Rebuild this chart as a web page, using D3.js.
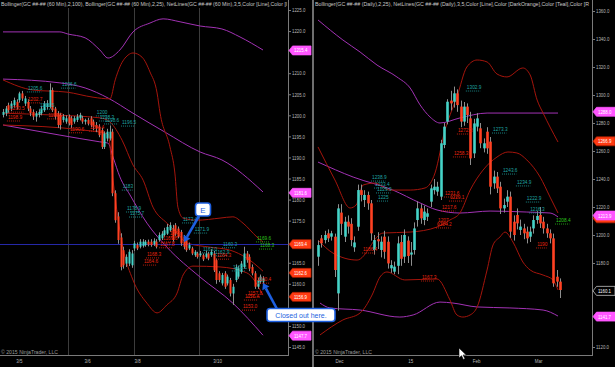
<!DOCTYPE html>
<html><head><meta charset="utf-8">
<script src="https://cdn.jsdelivr.net/npm/d3@7"></script>
<style>html,body{margin:0;padding:0;background:#000;overflow:hidden}</style>
</head><body>
<svg id="c" width="615" height="367"></svg>
<script>
// ---------------- DATA ----------------
// Left panel: 60 Min candles (GC)
const leftOpen  = [1200.1,1200.5,1202.4,1201.6,1202.4,1203.2,1203.6,1205.2,1202.8,1203.2,1201.6,1200.8,1199.7,1200.1,1200.5,1201.2,1202.0,1202.0,1206.0,1201.6,1200.5,1200.1,1198.9,1198.5,1199.7,1199.3,1198.5,1198.9,1199.3,1199.3,1198.5,1198.9,
  1199.3,1198.5,1197.7,1197.3,1196.5,1192.5,1194.5,1194.5,1196.1,1181.5,1176.0,1171.0,1168.0,1164.8,1164.8,1164.4,1168.4,1169.2,1168.8,1169.0,1169.2,1170.0,
  1170.0,1169.4,1170.0,1170.4,1170.8,1171.6,1171.9,1172.7,1173.1,1173.9,1173.1,1172.3,1171.2,1170.4,1168.4,1168.4,1166.8,1167.2,1166.8,
  1166.8,1166.4,1167.2,1166.8,1167.2,1165.6,1162.5,1160.1,1162.5,1160.1,1160.9,1157.7,1160.9,1161.7,1162.8,1164.0,1167.2,1166.4,1164.0,1162.5,1159.3,1160.5,1160.5];
const leftHigh  = [1201.5,1202.2,1203.0,1203.4,1204.2,1203.8,1205.6,1205.8,1204.6,1203.8,1202.2,1201.4,1201.0,1201.4,1202.2,1203.4,1203.6,1207.6,1206.6,1202.0,1201.0,1200.6,1200.3,1200.0,1200.2,1199.8,1199.8,1200.3,1200.6,1199.9,1199.2,1199.4,
  1199.8,1199.0,1198.4,1197.9,1197.0,1196.2,1196.8,1197.6,1196.8,1182.2,1177.0,1172.0,1168.8,1167.0,1168.2,1168.0,1170.2,1169.8,1170.6,1170.6,1170.4,1170.5,
  1170.6,1170.8,1170.6,1172.2,1172.5,1173.3,1174.2,1174.6,1174.0,1174.4,1173.6,1172.8,1171.6,1170.8,1169.8,1168.8,1168.0,1167.6,1167.8,
  1167.2,1167.8,1167.6,1168.2,1167.8,1166.0,1163.0,1162.6,1163.0,1162.2,1161.4,1160.0,1164.6,1164.2,1165.4,1168.8,1167.8,1167.0,1164.6,1163.0,1161.4,1162.2,1161.8];
const leftLow   = [1199.5,1199.8,1200.6,1201.0,1201.8,1201.4,1203.0,1203.4,1202.2,1201.0,1199.8,1198.9,1198.5,1199.5,1200.0,1200.8,1201.4,1201.6,1200.8,1199.0,1197.0,1196.6,1198.3,1198.0,1197.6,1197.0,1198.0,1198.4,1198.8,1198.0,1197.8,1197.6,
  1197.2,1196.5,1196.0,1194.8,1192.0,1192.0,1193.8,1194.0,1180.8,1174.5,1169.5,1163.2,1163.6,1164.0,1164.2,1163.8,1167.8,1168.0,1168.4,1168.6,1168.8,1168.9,
  1168.8,1169.0,1168.4,1170.0,1170.4,1171.2,1171.6,1172.3,1170.0,1171.4,1170.8,1169.0,1168.2,1167.6,1168.0,1166.8,1166.4,1166.0,1166.4,
  1165.4,1166.0,1165.6,1166.4,1162.8,1160.0,1160.4,1159.6,1158.8,1159.6,1157.0,1155.0,1160.4,1161.2,1162.4,1163.6,1165.0,1163.0,1162.0,1158.8,1158.8,1160.0,1160.0];
const leftClose = [1200.8,1201.6,1201.2,1202.8,1203.6,1202.0,1205.2,1204.0,1204.0,1201.6,1200.5,1199.7,1200.5,1200.8,1201.6,1202.8,1202.8,1206.0,1201.2,1199.7,1197.7,1197.7,1199.7,1199.3,1198.1,1197.7,1199.3,1199.7,1200.1,1198.5,1198.9,1198.0,
  1197.7,1197.3,1196.9,1195.3,1192.5,1195.7,1196.1,1196.1,1181.5,1175.1,1170.4,1164.0,1164.4,1166.4,1167.6,1167.2,1169.6,1168.4,1170.0,1170.0,1170.0,1169.3,
  1169.2,1170.2,1168.8,1171.6,1171.9,1172.7,1173.5,1173.9,1170.4,1171.9,1171.2,1169.6,1168.8,1168.0,1169.2,1167.2,1167.6,1166.4,1167.2,
  1165.8,1167.2,1166.0,1167.6,1163.2,1160.9,1160.9,1162.1,1159.3,1161.7,1157.7,1159.3,1164.0,1163.6,1164.8,1167.2,1165.6,1163.6,1162.5,1159.3,1160.9,1161.7,1161.3];

// Left panel bands: [bar index, price]
const leftBB100Upper = [[0,1219.8],[20.8,1219.8],[23.7,1219.3],[30,1218.4],[35.4,1215.5],[38.4,1213.6],[42.7,1215.5],[47.5,1219.8],[53.7,1221.9],[58.5,1222.9],[64.7,1222.2],[72,1221.2],[80,1220.5],[86.6,1218.6],[95,1215.5]];
const leftBB100Mid   = [[0,1208.6],[20.8,1207.7],[30,1206.5],[38.4,1204.1],[47.5,1200.5],[59.2,1196.0],[72,1191.3],[80,1189.4],[95,1181.8]];
const leftBB100Lower = [[0,1197.7],[20.8,1195.3],[35.4,1193.7],[38.4,1193.4],[40.2,1190.1],[42.7,1185.4],[46.4,1181.1],[52.6,1174.4],[59.9,1168.7],[72,1161.6],[84,1155.4],[95,1147.8]];
const leftBB25Upper  = [[0,1208.4],[11,1206.0],[23.4,1205.5],[32.9,1204.3],[39.1,1203.9],[41,1208.4],[42.7,1211.5],[45.7,1214.3],[47.5,1214.8],[50.8,1213.8],[53.7,1210.3],[56.3,1205.3],[57.4,1200.5],[61,1192.5],[62.8,1186.3],[63.9,1178.2],[65.8,1175.6],[70.9,1175.1],[79.3,1175.6],[84,1175.9],[87.7,1174.4],[92.8,1171.1],[95,1169.9]];
const leftBB25Mid    = [[0,1200.5],[17.2,1200.1],[35.4,1199.4],[39.1,1198.4],[43.5,1194.1],[47.5,1188.2],[51.2,1184.6],[54.8,1178.2],[59.9,1174.4],[63.6,1172.1],[67.2,1169.7],[75.6,1168.7],[82.9,1168.0],[89.1,1166.1],[95,1163.0]];
const leftBB25Lower  = [[0,1197.7],[29.2,1196.5],[38.4,1195.6],[40.2,1184.6],[43.8,1168.7],[47.5,1160.9],[52.6,1155.4],[56.3,1153.1],[59.9,1155.0],[63.6,1157.8],[65.8,1162.1],[69.4,1164.2],[79.3,1164.0],[89.1,1162.6],[95,1157.3]];

// Left NetLines labels
const leftLabelText  = ["1206.6","1205.6","1202.7","1201.5","1200.5","1198.9","1199.0","1200","1198.3","1198.6","1196.5","1194.4","1190.6","1183","1178.9","1175.7","1173.4","1171.9","1173","1169.6","1167.8","1168.3","1164.6","1160.3","1163.0","1162.9","1164.3","1169.6","1168.3","1162.1","1160.4","1157.8","1156.4","1153.0"];
const leftLabelBar   = [21.6,9.1,9.1,13.5,2.6,1.8,16.5,34.3,35.4,37.3,43.5,31.8,24.5,43.8,45.3,46.4,65.8,70.1,61,58.5,57.4,52.6,51.5,80.4,73.1,77.5,78.2,92.8,93.9,84,92.8,89.5,88.4,87.7];
const leftLabelPrice = [1207.4,1206.5,1203.9,1202.4,1201.7,1199.6,1200.1,1200.8,1199.6,1198.9,1198.4,1197.2,1196.8,1183.2,1178.0,1176.8,1175.4,1173.0,1172.1,1170.9,1169.5,1167.1,1165.4,1169.5,1168.3,1167.6,1166.8,1170.9,1169.2,1164.0,1161.1,1157.8,1157.1,1154.7];
const leftLabelKind  = ["t","t","r","t","r","r","r","t","t","t","t","r","r","t","t","t","t","t","r","r","r","r","r","t","t","t","r","g","g","t","r","r","r","r"];

const leftYTicks = [1225,1220,1210,1205,1200,1195,1190,1185,1180,1175,1165,1160,1150,1145];
const leftDateLabels = ["3/5","3/6","3/8","3/10"];
const leftDateBars   = [5.8,30.7,49,78.2];
const leftSessionBreaks = [23.75,47.9,71.6];
const leftTagValues = [1215.4,1181.6,1169.4,1162.6,1156.9,1147.7];
const leftTagKinds  = ["p","p","r","r","r","p"];
const entryPrice = 1169.4;

// Right panel: Daily candles (GC)
const rightOpen  = [1184.5,1197.6,1196.4,1201.2,1198.8,1198.8,1158.3,1216,1198.8,1209.5,1208,1191.2,1205.9,1232,1225,1228.6,1222.6,1189.3,1197,1189.3,1198.8,1195.2,1176.2,1173.8,1178,1195,1184.5,1196,1186,1189.3,1210.7,1219,1210.7,1213,1223.8,1232,1231,1227.4,1264.3,1281,1296,1295.2,1301.2,1291.7,1281,1291.7,1283.3,1258.3,1277.4,1276.2,1261.9,1273.8,1266.7,1236.9,1241.7,1234.5,1219,1223.8,1227.4,1209.5,1214.3,1203.6,1204.7,1202.4,1198.8,1204.7,1210.7,1214.3,1209.5,1204.7,1201.2,1197.6,1170.2,1166.7];
const rightHigh  = [1196,1200,1203,1204,1203,1201,1222,1222,1213,1214,1212,1199,1236,1236,1232,1231,1225,1200,1202,1199,1203,1199,1182,1181,1199,1200,1204,1199,1195,1209,1224,1222,1221,1219,1236,1240,1238,1268,1280,1297,1303,1306,1304,1296,1295,1294,1288,1283,1287,1280,1269,1277,1270,1246,1245,1238,1226,1232,1231,1214,1219,1211,1208,1206,1206,1214,1217,1220,1213,1208,1204,1201,1175,1169];
const rightLow   = [1178,1191,1194,1195,1196,1170,1146,1200,1195,1201,1192,1188,1203,1224,1220,1218,1196,1186,1190,1184,1183,1176,1173,1172,1172,1178,1180,1180,1178,1186,1206,1208,1207,1210,1220,1229,1228,1225,1262,1279,1289,1291,1288,1277,1278,1280,1250,1255,1274,1262,1259,1258,1229,1233,1230,1215,1216,1220,1198,1196,1204,1200,1197,1194,1195,1201,1208,1205,1201,1198,1194,1163,1163,1155];
const rightClose = [1192.8,1194.0,1200.0,1197.6,1201.2,1175.0,1219.0,1208,1209.5,1206,1196.4,1194.7,1232.1,1228.6,1228.6,1222.6,1201.2,1196.4,1195.5,1195.2,1188,1179.7,1178.5,1177.4,1194,1183,1200,1185,1187.5,1204.7,1219,1211.9,1216.7,1215.5,1233.3,1234.5,1234.5,1265.5,1277.4,1295.2,1294,1301.2,1292.8,1281,1291.7,1285.7,1254.7,1279.7,1283.3,1265.5,1265.5,1261.9,1234.5,1241.7,1233.3,1219,1221.4,1227.4,1202.4,1200,1208.3,1206,1201.2,1197.6,1202.4,1210.7,1213.6,1208.3,1204.7,1201.2,1197.6,1165.5,1166.7,1160.7];

const rightBBUpper = [[0,1262.9],[5.1,1239.3],[9.7,1219.3],[11.5,1221.4],[13.6,1235.7],[17.2,1237.1],[21.7,1232.1],[27.8,1232.1],[32.3,1233.6],[35.3,1244.3],[38.3,1275],[40.4,1289.3],[41.9,1298.6],[44.9,1320],[48,1325],[51,1323.6],[54,1315],[57,1312.9],[61.8,1319.3],[64,1314.3],[66.1,1296.4],[67.9,1287.1],[70,1277.1],[72.4,1266.4]];
const rightBBMid   = [[0,1196.4],[4.5,1187.1],[11.8,1182.1],[19.6,1201.4],[27.8,1202.1],[35.9,1205.7],[39.8,1210.7],[42.8,1215.7],[45.9,1232.1],[49.8,1246.4],[54,1255.7],[57.3,1259.3],[60,1258.6],[63,1253.6],[67,1241.4],[70,1227.1],[72.4,1215.7]];
const rightBBLower = [[0.6,1128.6],[7.5,1139.3],[12.7,1144.3],[16.3,1157.1],[18.7,1170],[20.8,1173.6],[26.2,1167.9],[35.9,1168.6],[39.8,1153.6],[41.9,1142.9],[43.7,1141.4],[45.9,1142.9],[48,1148.6],[51,1175],[52.8,1192.9],[54.9,1198.6],[56.4,1202.1],[58.8,1195],[61.8,1180.7],[64,1175],[67.9,1171.4],[70.9,1167.9],[72.4,1160.7]];
const rightPivotUpper = [[0,1353.6],[7.5,1339.3],[12.7,1330.7],[17.8,1321.4],[23.8,1312.9],[27.8,1305],[30.8,1292.9],[33.8,1284.3],[36.8,1280],[42.8,1283.6],[51,1287.1],[72.4,1287.1]];
const rightPivotMid   = [[0,1252.1],[10.6,1241.4],[22.6,1232.1],[30.8,1222.9],[35.9,1217.9],[42.8,1215.7],[51.9,1217.1],[63,1216.4],[70,1215.7],[72.4,1212.9]];
const rightPivotLower = [[0.6,1151.4],[3.6,1147.9],[12.7,1146.4],[24.7,1141.4],[28.7,1142.9],[36.8,1152.1],[40.7,1151.4],[48,1148.6],[57.9,1147.9],[67.9,1146.4],[72.4,1142.1]];

const rightLabelText  = ["1302.9","1273.3","1272.3","1258.3","1243.6","1234.9","1222.9","1216.3","1208.4","1190","1238.9","1233.4","1229.9","1225","1231.6","1229.1","1217.6","1207","1204.2","1186.4","1167.3"];
const rightLabelBar   = [44.9,52.8,42.2,41,55.8,60,63,64,71.8,66.1,16.3,17.2,17.8,18.1,38.3,39.8,37.4,36.2,35.9,13.6,31.4];
const rightLabelPrice = [1305.7,1275.7,1275,1258.6,1246.4,1237.9,1226.4,1218.6,1210.7,1193.6,1241.4,1236.4,1232.9,1227.1,1230,1227.1,1220,1210.7,1207.9,1190,1170];
const rightLabelKind  = ["t","t","r","r","t","t","t","t","g","r","t","t","t","t","r","r","r","r","r","r","r"];

const rightYTicks = [1360,1340,1320,1300,1280,1260,1240,1220,1200,1180,1120];
const rightDateLabels = ["Dec","15","Feb","Mar"];
const rightDateBars   = [6.3,27.8,47.7,66.4];
const rightTagValues = [1288.0,1266.9,1211.9,1213.9,1160.1,1141.7];
const rightTagKinds  = ["p","r","x","p","k","p"];

const leftTitle  = "Bollinger(GC ##-## (60 Min),2,100), Bollinger(GC ##-## (60 Min),2,25), NetLines(GC ##-## (60 Min),3,5,Color [Line],Color [l";
const rightTitle = "Bollinger(GC ##-## (Daily),2,25), NetLines(GC ##-## (Daily),3,5,Color [Line],Color [DarkOrange],Color [Teal],Color [R";

// ---------------- DRAW ----------------
const FONT = "'Liberation Sans', Arial, sans-serif";
const C = {up:"#45d3c8", down:"#ff4122", wick:"#8e8e8e", purple:"#a232b4", dred:"#a5150c",
           tealTxt:"#1fa3a3", redTxt:"#e8230e", greenTxt:"#2bc21a", axis:"#7a7a7a", axisTxt:"#b8b8b8",
           grid:"#3c3c3c", tagP:"#ff55ff", tagR:"#ff3a12", blue:"#1d5fe0"};
const svg = d3.select("#c");
svg.append("rect").attr("width",615).attr("height",367).attr("fill","#000");
const defs = svg.append("defs");

function condense(sel, f){
  sel.each(function(){ const L=this.getComputedTextLength(); if(L>0) d3.select(this).attr("textLength",L*f).attr("lengthAdjust","spacingAndGlyphs"); });
}

function drawPanel(o){
  const g = svg.append("g");
  const cid = "clip"+o.name;
  defs.append("clipPath").attr("id",cid).append("rect").attr("x",o.px0).attr("y",8).attr("width",o.px1-o.px0).attr("height",347);
  const plot = g.append("g").attr("clip-path",`url(#${cid})`);
  const x = o.x, y = o.y;
  (o.breaks||[]).forEach(b=>{
    plot.append("line").attr("x1",Math.round(x(b))+0.5).attr("x2",Math.round(x(b))+0.5).attr("y1",0).attr("y2",355).attr("stroke",C.grid).attr("stroke-width",1);
  });
  const line = d3.line().x(d=>x(d[0])).y(d=>y(d[1])).curve(d3.curveMonotoneX);
  o.lines.forEach(L=>{
    plot.append("path").attr("d",line(L.data)).attr("fill","none").attr("stroke",L.color).attr("stroke-width",1);
  });
  if(o.hline!==undefined){
    plot.append("line").attr("x1",o.px0).attr("x2",o.px1).attr("y1",Math.round(y(o.hline))+0.5).attr("y2",Math.round(y(o.hline))+0.5).attr("stroke","#2528a8").attr("stroke-width",1);
  }
  const n = o.open.length;
  const cg = plot.append("g");
  for(let i=0;i<n;i++){
    const xc = Math.round(x(i))+0.5;
    cg.append("line").attr("x1",xc).attr("x2",xc).attr("y1",y(o.high[i])).attr("y2",y(o.low[i])).attr("stroke",C.wick).attr("stroke-width",1);
  }
  for(let i=0;i<n;i++){
    const xc = Math.round(x(i))+0.5;
    const up = o.close[i]>=o.open[i];
    const top = y(Math.max(o.open[i],o.close[i])), bot = y(Math.min(o.open[i],o.close[i]));
    cg.append("rect").attr("x",xc-o.bw/2).attr("y",top).attr("width",o.bw).attr("height",Math.max(1,bot-top)).attr("fill",up?C.up:C.down);
  }
  const lg = plot.append("g");
  o.labels.text.forEach((t,i)=>{
    const col = o.labels.kind[i]==="t"?C.tealTxt:(o.labels.kind[i]==="g"?C.greenTxt:C.redTxt);
    const lx = x(o.labels.bar[i]), ly = y(o.labels.price[i]);
    const tx = lg.append("text").attr("x",lx).attr("y",ly+2).attr("fill",col).attr("font-family",FONT).attr("font-size",5.6).text(t);
    condense(tx,0.85);
    const w = tx.node().getComputedTextLength()*0.85;
    lg.append("line").attr("x1",lx-1).attr("x2",lx+w+1).attr("y1",ly+4).attr("y2",ly+4).attr("stroke",col).attr("stroke-width",0.8).attr("stroke-dasharray","1,1");
  });
  const ya = g.append("g").attr("transform",`translate(${o.px1},0)`)
    .call(d3.axisRight(y).tickValues(o.yTicks).tickSize(3).tickPadding(1).tickFormat(d=>d.toFixed(1)));
  ya.select(".domain").remove();
  ya.selectAll("line").attr("stroke",C.axis);
  ya.selectAll("text").attr("fill",C.axisTxt).attr("font-family",FONT).attr("font-size",5.6);
  condense(ya.selectAll("text"),0.78);
  g.append("line").attr("x1",o.px1+0.5).attr("x2",o.px1+0.5).attr("y1",0).attr("y2",356).attr("stroke",C.axis);
  const xa = g.append("g").attr("transform","translate(0,355)")
    .call(d3.axisBottom(x).tickValues(o.dateBars).tickSize(0).tickPadding(4).tickFormat((d,i)=>o.dateLabels[i]));
  xa.select(".domain").remove();
  xa.selectAll("text").attr("fill",C.axisTxt).attr("font-family",FONT).attr("font-size",5.6);
  condense(xa.selectAll("text"),0.8);
  g.append("line").attr("x1",o.px0).attr("x2",o.px1).attr("y1",355.5).attr("y2",355.5).attr("stroke",C.axis);
  g.append("text").attr("x",o.px0+1).attr("y",6.2).attr("fill","#c8c8c8").attr("font-family",FONT).attr("font-size",6)
    .attr("textLength",o.titleLen).attr("lengthAdjust","spacingAndGlyphs").text(o.title);
  g.append("text").attr("x",o.px0+1).attr("y",354).attr("fill","#9a9a9a").attr("font-family",FONT).attr("font-size",5.4)
    .attr("textLength",57).attr("lengthAdjust","spacingAndGlyphs").text("© 2015 NinjaTrader, LLC");
  o.tags.forEach((v,i)=>{
    const k = o.tagKinds[i];
    const ty = y(v), x0 = o.px1+1;
    const fill = k==="p"?C.tagP:((k==="r"||k==="x")?C.tagR:"#000");
    g.append("path").attr("d",`M${x0},${ty} L${x0+3.5},${ty-4.5} L${x0+22},${ty-4.5} L${x0+22},${ty+4.5} L${x0+3.5},${ty+4.5} Z`)
      .attr("fill",fill).attr("stroke",k==="k"?"#ddd":((k==="r"||k==="x")?"#b02000":"#ff55ff")).attr("stroke-width",0.7);
    if(k!=="x"){
      const tt = g.append("text").attr("x",x0+5).attr("y",ty+2).attr("fill","#fff").attr("font-family",FONT).attr("font-size",5.6).text(v.toFixed(1));
      condense(tt,0.78);
    }
  });
}

const xL = d3.scaleLinear().domain([0,95]).range([3,263]);
const yL = d3.scaleLinear().domain([1145,1225]).range([347,10]);
const xR = d3.scaleLinear().domain([0,73]).range([318,560]);
const yR = d3.scaleLinear().domain([1120,1360]).range([347,11]);

drawPanel({name:"L", px0:0, px1:288, x:xL, y:yL, bw:2,
  open:leftOpen, high:leftHigh, low:leftLow, close:leftClose, breaks:leftSessionBreaks,
  lines:[{data:leftBB100Upper,color:C.purple},{data:leftBB100Mid,color:C.purple},{data:leftBB100Lower,color:C.purple},
         {data:leftBB25Upper,color:C.dred},{data:leftBB25Mid,color:C.dred},{data:leftBB25Lower,color:C.dred}],
  hline:entryPrice,
  labels:{text:leftLabelText,bar:leftLabelBar,price:leftLabelPrice,kind:leftLabelKind},
  yTicks:leftYTicks, dateBars:leftDateBars, dateLabels:leftDateLabels,
  title:leftTitle, titleLen:286, tags:leftTagValues, tagKinds:leftTagKinds});

drawPanel({name:"R", px0:314, px1:592, x:xR, y:yR, bw:2.6,
  open:rightOpen, high:rightHigh, low:rightLow, close:rightClose, breaks:[],
  lines:[{data:rightPivotUpper,color:C.purple},{data:rightPivotMid,color:C.purple},{data:rightPivotLower,color:C.purple},
         {data:rightBBUpper,color:C.dred},{data:rightBBMid,color:C.dred},{data:rightBBLower,color:C.dred}],
  labels:{text:rightLabelText,bar:rightLabelBar,price:rightLabelPrice,kind:rightLabelKind},
  yTicks:rightYTicks, dateBars:rightDateBars, dateLabels:rightDateLabels,
  title:rightTitle, titleLen:274, tags:rightTagValues, tagKinds:rightTagKinds});

svg.append("rect").attr("x",312).attr("y",0).attr("width",2).attr("height",367).attr("fill","#6e6e6e");

function arrow(x1,y1,x2,y2){
  const a = Math.atan2(y2-y1,x2-x1), L=6, W=4;
  const bx = x2-L*Math.cos(a), by = y2-L*Math.sin(a);
  svg.append("line").attr("x1",x1).attr("y1",y1).attr("x2",bx).attr("y2",by).attr("stroke",C.blue).attr("stroke-width",2.6);
  svg.append("path").attr("d",`M${x2},${y2} L${bx+W*Math.sin(a)},${by-W*Math.cos(a)} L${bx-W*Math.sin(a)},${by+W*Math.cos(a)} Z`).attr("fill",C.blue);
}
arrow(199,216,184,242);
arrow(277,309,263,283);
svg.append("rect").attr("x",195.5).attr("y",203).attr("width",15).attr("height",13).attr("rx",3).attr("fill","#fff").attr("stroke",C.blue).attr("stroke-width",1.6);
svg.append("text").attr("x",203).attr("y",212.6).attr("text-anchor","middle").attr("fill",C.blue).attr("font-family",FONT).attr("font-size",8).text("E");
svg.append("rect").attr("x",267).attr("y",308.5).attr("width",68).attr("height",13).attr("rx",3).attr("fill","#fff").attr("stroke",C.blue).attr("stroke-width",1.6);
const ct = svg.append("text").attr("x",301).attr("y",318).attr("text-anchor","middle").attr("fill",C.blue).attr("font-family",FONT).attr("font-size",7.6).text("Closed out here.");
condense(ct,0.92);
svg.append("path").attr("d","M459,348 L459,358 L461.5,355.7 L463.4,359.5 L465,358.8 L463.1,355 L466.3,355 Z").attr("fill","#fff").attr("stroke","#000").attr("stroke-width",0.6);
</script>
</body></html>
